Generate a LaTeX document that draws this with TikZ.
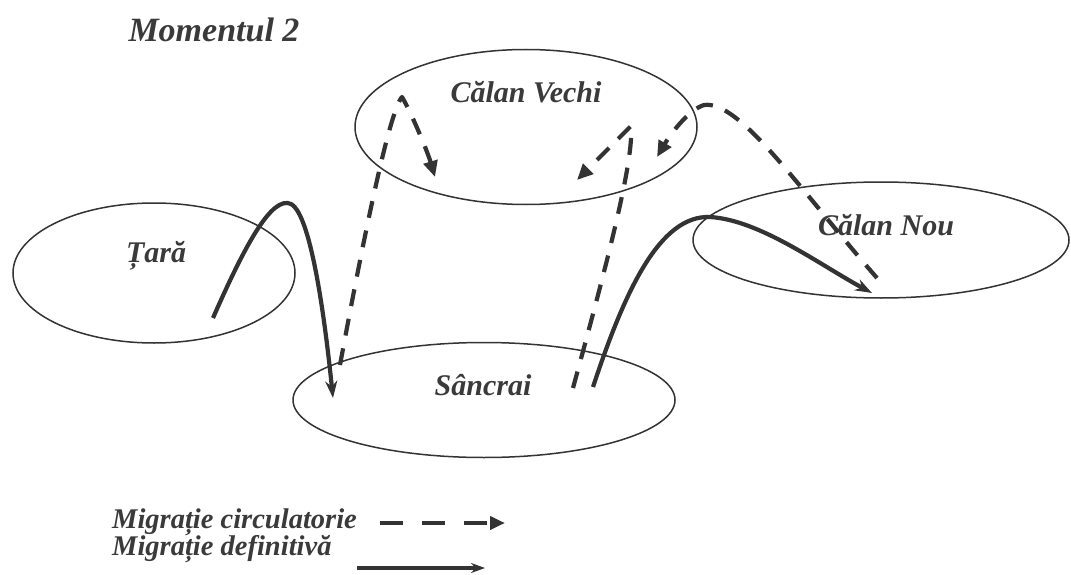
\documentclass[tikz,border=0pt]{standalone}
\usepackage{fontspec}
\setmainfont{Liberation Serif}
\usetikzlibrary{shapes.geometric,arrows.meta}
\definecolor{ink}{HTML}{333333}
\definecolor{txt}{HTML}{3A3A3A}
\begin{document}
\begin{tikzpicture}[x=1pt,y=-1pt,
  place/.style={draw=ink, line width=1.5pt, ellipse, inner sep=0pt},
  lbl/.style={font=\fontsize{30}{36}\selectfont\bfseries\itshape, text=txt, inner sep=0pt, anchor=base},
  leg/.style={font=\fontsize{28.5}{34}\selectfont\bfseries\itshape, text=txt, inner sep=0pt, anchor=base west},
  circ/.style={line width=4.2pt, draw=ink, dash pattern=on 17pt off 13pt, line join=round, -{Triangle[length=16pt,width=14pt]}},
  defin/.style={line width=4.2pt, draw=ink, -{Stealth[length=17pt,width=12pt]}}]
\useasboundingbox (0,0) rectangle (1071,575);
\fill[white] (0,0) rectangle (1071,575);

% places
\node[place, minimum width=342pt, minimum height=155pt] (cv) at (526,127) {};
\node[place, minimum width=282pt, minimum height=140pt] (tara) at (154,273) {};
\node[place, minimum width=382pt, minimum height=115pt] (sanc) at (484,400) {};
\node[place, minimum width=376pt, minimum height=116pt] (cn) at (881,240) {};

% labels
\node[lbl, font=\fontsize{34}{40}\selectfont\bfseries\itshape] (mom) at (214,42) {Momentul 2};
\node[lbl] (tcv) at (526,103) {Călan Vechi};
\node[lbl] (ttara) at (156,262) {Țară};
\node[lbl] (tcn) at (886,235) {Călan Nou};
\node[lbl] (tsanc) at (483,395) {Sâncrai};

% anchor points inside the places
\coordinate (t1) at (213,318);
\coordinate (s1) at (333,398);
\coordinate (s2) at (593,387);
\coordinate (n1) at (872,293);
\coordinate (s3) at (340,365);
\coordinate (v1) at (435,177);
\coordinate (s4) at (573,388);
\coordinate (v2) at (577,180);
\coordinate (n2) at (877,278);
\coordinate (v3) at (657,157);

% definitive migration
\draw[defin] (t1) .. controls (245,245) and (272,195) .. (291,204)
                  .. controls (312,215) and (326,330) .. (s1);
\draw[defin] (s2) .. controls (625,290) and (660,215) .. (710,217)
                  .. controls (760,220) and (820,265) .. (n1);

% circulatory migration
\draw[circ] (s3) .. controls (365,230) and (390,110) .. (402,97)
                 .. controls (410,110) and (427,150) .. (v1);
\draw[circ] (s4) .. controls (608,260) and (634,160) .. (631,126)
                 -- (v2);
\draw[circ] (n2) .. controls (800,190) and (740,100) .. (704,105)
                 .. controls (688,110) and (670,135) .. (v3);

% legend
\node[leg] (l1) at (112,528) {Migrație circulatorie};
\node[leg] (l2) at (112,555) {Migrație definitivă};
\coordinate (a1) at (380,523);
\coordinate (b1) at (505,523);
\coordinate (a2) at (357,568);
\coordinate (b2) at (485,568);
\draw[circ, dash pattern=on 23pt off 19pt, line width=4pt, -{Triangle[length=15pt,width=13pt]}] (a1) -- (b1);
\draw[defin, line width=3.5pt, -{Stealth[length=14pt,width=10pt]}] (a2) -- (b2);
\end{tikzpicture}
\end{document}
